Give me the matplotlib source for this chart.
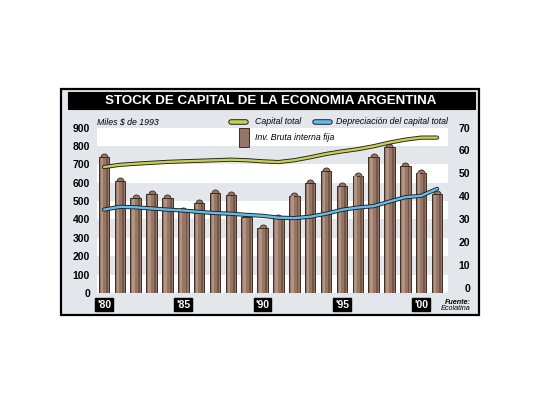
import matplotlib.pyplot as plt
import matplotlib.patheffects as pe
from matplotlib.patches import Rectangle
from matplotlib.lines import Line2D
import numpy as np

years = np.arange(1980, 2002)
inv_bruta = [57, 46.7, 39.5, 41.1, 39.2, 33.8, 37.3, 41.4, 40.6, 31.0, 26.2,
             30.5, 40.4, 45.7, 51.2, 44.6, 49.1, 57.3, 61.4, 53.3, 50.4, 41.1]
capital_total = [685, 697, 703, 708, 713, 716, 719, 722, 725, 722, 716,
                 712, 722, 738, 756, 770, 782, 798, 818, 834, 845, 845]
depreciacion = [34.3, 35.5, 35.3, 34.8, 34.3, 33.9, 33.3, 32.8, 32.5, 32.0, 31.6,
                30.8, 30.6, 31.2, 32.5, 34.2, 35.2, 35.8, 37.8, 39.7, 40.3, 43.3]
year_labels = {1980: "'80", 1985: "'85", 1990: "'90", 1995: "'95", 2000: "'00"}
left_ticks = list(range(0, 1000, 100))
right_ticks = list(range(0, 80, 10))

W, H = 540, 405
BG = "#e3e7eb"
BAR = "#957565"
BAR_HI = "#b39483"
BAR_SH = "#735749"
BAR_EDGE = "#3c2c24"
YELLOW = "#c9cf4c"
BLUE = "#63bdec"
FONT = "Liberation Sans"


def fx(x):
    return x / W


def fy(y):
    return 1 - y / H


fig = plt.figure(figsize=(5.4, 4.05), dpi=100)

# frame and title bar (behind the axes)
fig.add_artist(Rectangle((fx(61), fy(315)), fx(479) - fx(61), fy(89) - fy(315),
                         transform=fig.transFigure, facecolor=BG,
                         edgecolor="black", lw=1.6, zorder=-2))
fig.add_artist(Rectangle((fx(68), fy(109)), fx(475) - fx(68), fy(92) - fy(109),
                         transform=fig.transFigure, facecolor="black",
                         edgecolor="black", lw=0.8, zorder=-1))
fig.text(fx(271), fy(100.5), "STOCK DE CAPITAL DE LA ECONOMIA ARGENTINA",
         color="white", fontsize=9.6, fontweight="bold", family=FONT,
         ha="center", va="center")

ax = fig.add_axes([fx(97), fy(293), fx(448) - fx(97), fy(127.5) - fy(293)])
ax.set_facecolor(BG)
ax.set_xlim(1979.56, 2001.69)
ax.set_ylim(0, 900)
for k in range(0, 900, 200):
    ax.axhspan(k, k + 100, color="white", lw=0)
for s in ax.spines.values():
    s.set_visible(False)
ax.set_yticks(left_ticks)
ax.tick_params(axis="y", length=0, pad=5)
ax.set_xticks([])
for lab in ax.get_yticklabels():
    lab.set_family(FONT)
    lab.set_fontweight("bold")
    lab.set_fontsize(7.5)

ax2 = ax.twinx()
ax2.set_ylim(-1.96, 70)
for s in ax2.spines.values():
    s.set_visible(False)
ax2.set_yticks(right_ticks)
ax2.tick_params(axis="y", length=0, pad=16)
for lab in ax2.get_yticklabels():
    lab.set_family(FONT)
    lab.set_fontweight("bold")
    lab.set_fontsize(7.5)
    lab.set_ha("right")

# cylinder-like bars: body, light left strip, dark right strip, round cap
base = ax2.get_ylim()[0]
heights = np.array(inv_bruta) - base
ax2.scatter(years, inv_bruta, s=26, marker="o", color=BAR,
            edgecolor=BAR_EDGE, lw=0.6, zorder=1.9)
ax2.bar(years, heights, bottom=base, width=0.66, color=BAR,
        edgecolor=BAR_EDGE, lw=0.7, zorder=2)
ax2.bar(years - 0.13, heights - 0.4, bottom=base, width=0.16, color=BAR_HI,
        lw=0, zorder=3)
ax2.bar(years + 0.2, heights - 0.4, bottom=base, width=0.12, color=BAR_SH,
        lw=0, zorder=3)

outline = [pe.Stroke(linewidth=3.0, foreground="#1e1e1e"), pe.Normal()]
ax2.plot(years, capital_total, transform=ax.transData, color=YELLOW, lw=1.7,
         solid_capstyle="round", path_effects=outline, zorder=5)
ax2.plot(years, depreciacion, color=BLUE, lw=1.7, solid_capstyle="round",
         path_effects=outline, zorder=5)

# year labels in black boxes
for yr, txt in year_labels.items():
    ax.text(yr, -0.07, txt, transform=ax.get_xaxis_transform(),
            color="white", fontsize=7.5, fontweight="bold", family=FONT,
            ha="center", va="center", clip_on=False,
            bbox=dict(boxstyle="square,pad=0.18", facecolor="black",
                      edgecolor="black"))

# legend
key_outline = [pe.Stroke(linewidth=4.0, foreground="#1e1e1e"), pe.Normal()]
fig.text(fx(97), fy(122), "Miles $ de 1993", fontsize=6.3, style="italic",
         family=FONT, va="center")
fig.add_artist(Line2D([fx(231), fx(246)], [fy(122), fy(122)],
                      transform=fig.transFigure, color=YELLOW, lw=2.6,
                      solid_capstyle="round", path_effects=key_outline))
fig.text(fx(255), fy(122), "Capital total", fontsize=6.3, style="italic",
         family=FONT, va="center")
fig.add_artist(Line2D([fx(315), fx(330)], [fy(122), fy(122)],
                      transform=fig.transFigure, color=BLUE, lw=2.6,
                      solid_capstyle="round", path_effects=key_outline))
fig.text(fx(336), fy(122), "Depreciación del capital total", fontsize=6.3,
         style="italic", family=FONT, va="center")
fig.add_artist(Rectangle((fx(239), fy(147)), fx(249) - fx(239), fy(128) - fy(147),
                         transform=fig.transFigure, facecolor=BAR,
                         edgecolor=BAR_EDGE, lw=0.7))
fig.text(fx(255), fy(138), "Inv. Bruta interna fija", fontsize=6.3,
         style="italic", family=FONT, va="center")

fig.text(fx(471), fy(302), "Fuente:", fontsize=5.2, style="italic",
         fontweight="bold", family=FONT, ha="right", va="center")
fig.text(fx(471), fy(308), "Ecolatina", fontsize=5.2, style="italic",
         family=FONT, ha="right", va="center")

fig.savefig("out.png", dpi=100)
